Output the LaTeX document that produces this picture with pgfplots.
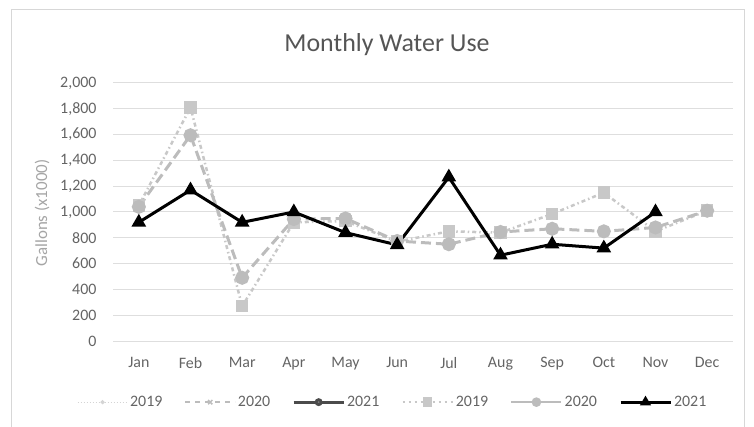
\documentclass[border=0pt]{standalone}
\usepackage{fontspec}
\setmainfont{Carlito}
\usepackage{pgfplots}
\pgfplotsset{compat=1.18}

\definecolor{tickgray}{RGB}{100,100,100}
\definecolor{titlegray}{RGB}{85,85,85}
\definecolor{labelgray}{RGB}{165,165,165}
\definecolor{gridgray}{RGB}{222,222,222}
\definecolor{framegray}{RGB}{215,215,215}
\definecolor{c2019}{RGB}{200,200,200}
\definecolor{c2020}{RGB}{188,188,188}
\definecolor{faint}{RGB}{212,212,212}
\definecolor{dark}{RGB}{75,75,75}

\begin{document}
\begin{tikzpicture}
\useasboundingbox (0,0) rectangle (754bp,427bp);
\draw[framegray, line width=1bp] (11bp,-5bp) -- (11bp,417bp) -- (744bp,417bp) -- (744bp,-5bp);
\node[text=titlegray] at (387bp,382bp) {\fontsize{26}{30}\selectfont Monthly Water Use};
\node[rotate=90, text=labelgray] at (42bp,214bp) {\fontsize{17}{20}\selectfont Gallons (x1000)};

\begin{axis}[
    at={(113bp,86bp)}, anchor=south west,
    scale only axis, width=620bp, height=258bp,
    xmin=-0.5, xmax=11.5, ymin=0, ymax=2000,
    xtick={0,...,11},
    xticklabels={Jan,Feb,Mar,Apr,May,Jun,Jul,Aug,Sep,Oct,Nov,Dec},
    ytick={0,200,...,2000},
    axis line style={draw=none},
    major tick length=0pt,
    ymajorgrids, grid style={gridgray, line width=1bp},
    tick label style={font=\fontsize{16}{19}\selectfont, text=tickgray},
    yticklabel style={xshift=-13bp},
    xticklabel style={yshift=-13bp},
    /pgf/number format/assume math mode=true,
    /pgf/number format/1000 sep={,},
    scaled y ticks=false,
    legend columns=6,
    legend style={draw=none, fill=none, at={(0.451,-0.237)}, anchor=center,
      font=\fontsize{16}{19}\selectfont, text=tickgray,
      /tikz/every even column/.append style={column sep=20bp},
      nodes={inner sep=2bp}},
    legend image code/.code={%
      \draw[mark repeat=2, mark phase=2, #1] plot coordinates {(0bp,0bp) (25bp,0bp) (50bp,0bp)};},
  ]
  \draw[gray!45, line width=1bp] (axis cs:-0.5,0) -- (axis cs:11.5,0);

  % legend entries
  \addlegendimage{faint, line width=1.2bp, dash pattern=on 1.5bp off 1.5bp, mark=*, mark size=1.5bp, mark options={solid}}
  \addlegendentry{2019}
  \addlegendimage{c2020, line width=1.5bp, dash pattern=on 5bp off 5bp, mark=x, mark size=3bp, mark options={solid}}
  \addlegendentry{2020}
  \addlegendimage{dark, line width=2.8bp, mark=*, mark size=2.5bp, mark options={solid, fill=gray}}
  \addlegendentry{2021}
  \addlegendimage{c2019, line width=2.5bp, dash pattern=on 2bp off 4bp, mark=square*, mark size=3.5bp, mark options={solid, fill=c2019}}
  \addlegendentry{2019}
  \addlegendimage{c2020, line width=2.5bp, mark=*, mark size=3.5bp, mark options={solid, fill=c2020}}
  \addlegendentry{2020}
  \addlegendimage{black, line width=3bp, mark=triangle*, mark size=3.5bp, mark options={solid, fill=black}}
  \addlegendentry{2021}

  % 2019
  \addplot[forget plot, c2019, line width=2.5bp, dash pattern=on 4bp off 3bp on 1.5bp off 3bp,
    mark=square*, mark size=5bp, mark options={solid, fill=c2019}]
    coordinates {(0,1050) (1,1810) (2,270) (3,920) (4,930) (5,770)
                 (6,850) (7,840) (8,985) (9,1150) (10,850) (11,1010)};
  % 2020
  \addplot[forget plot, c2020, line width=3bp, dash pattern=on 10bp off 5bp,
    mark=*, mark size=5.5bp, mark options={solid, fill=c2020}]
    coordinates {(0,1040) (1,1595) (2,490) (3,945) (4,950) (5,775)
                 (6,750) (7,845) (8,870) (9,850) (10,880) (11,1010)};
  % 2021
  \addplot[forget plot, black, line width=3bp,
    mark=triangle*, mark size=5.5bp, mark options={solid, fill=black}]
    coordinates {(0,920) (1,1170) (2,920) (3,1000) (4,840) (5,745)
                 (6,1270) (7,665) (8,750) (9,720) (10,1000)};
\end{axis}
\end{tikzpicture}
\end{document}
